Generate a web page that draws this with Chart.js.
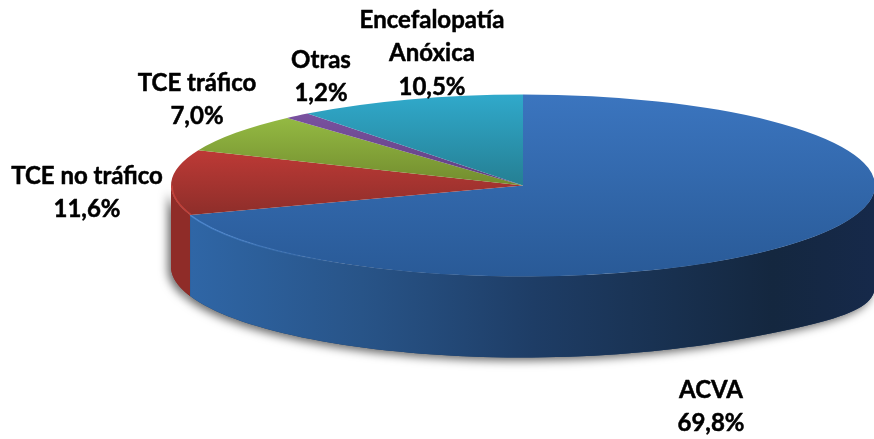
<!DOCTYPE html>
<html>
<head>
<meta charset="utf-8">
<script src="https://cdn.jsdelivr.net/npm/chart.js@4"></script>
<style>
  html, body { margin: 0; padding: 0; background: #fff; }
  canvas { display: block; }
</style>
</head>
<body>
<canvas id="chart" width="874" height="439"></canvas>
<script>
const categories = ['ACVA', 'TCE no tráfico', 'TCE tráfico', 'Otras', 'Encefalopatía Anóxica'];
const values = [69.8, 11.6, 7.0, 1.2, 10.5];
const valueLabels = ['69,8%', '11,6%', '7,0%', '1,2%', '10,5%'];
const labelLines = [['ACVA'], ['TCE no tráfico'], ['TCE tráfico'], ['Otras'], ['Encefalopatía', 'Anóxica']];

// label centres, first line
const labelPos = [[711, 390], [87, 176], [197, 83], [321, 60], [432, 20]];
const lineGap = 33.5;

const pieRadius = 352;
const tilt = 91 / 352;
const depth = 81;
const rightExtra = 19;

// top face colours, [offset over the whole ellipse, colour]
const topStops = [
  [[0, '#3b75bf'], [1, '#295a97']],
  [[0.3, '#be3a36'], [0.66, '#8e2e2a']],
  [[0.125, '#94ba43'], [0.5, '#728c2e']],
  [[0.1, '#7a52a0'], [0.5, '#5f3f80']],
  [[0, '#30a9cb'], [0.5, '#257f93']]
];

const wallStops = [[0, '#2f66a6'], [0.25, '#285488'], [0.5, '#1e3d66'], [0.85, '#14273f'], [1, '#16294a']];
const redWall = '#8f2c28';

const topFill = (c) => {
  const area = c.chart.chartArea;
  const stops = topStops[c.dataIndex];
  if (!area) return stops[0][1];
  const cy = (area.top + area.bottom) / 2;
  const g = c.chart.ctx.createLinearGradient(0, cy - pieRadius, 0, cy + pieRadius);
  stops.forEach(s => g.addColorStop(s[0], s[1]));
  return g;
};

// outline of the side wall between two angles
function wallPath(ctx, arc, from, to) {
  const rx = arc.outerRadius, ry = arc.outerRadius * tilt;
  const steps = 80;
  ctx.beginPath();
  for (let i = 0; i <= steps; i++) {
    const a = from + (to - from) * i / steps;
    ctx.lineTo(arc.x + rx * Math.cos(a), arc.y + ry * Math.sin(a));
  }
  for (let i = steps; i >= 0; i--) {
    const a = from + (to - from) * i / steps;
    const c = Math.max(Math.cos(a), 0);
    ctx.lineTo(arc.x + rx * Math.cos(a), arc.y + ry * Math.sin(a) + depth + rightExtra * Math.pow(c, 6));
  }
  ctx.closePath();
}

const pie3d = {
  id: 'pie3d',
  beforeDatasetsDraw(chart) {
    const ctx = chart.ctx;
    const arcs = chart.getDatasetMeta(0).data;
    const blue = arcs[0], red = arcs[1];

    // soft shadow under the whole wall
    ctx.save();
    ctx.shadowColor = 'rgba(0,0,0,0.6)';
    ctx.shadowBlur = 10;
    ctx.shadowOffsetX = -3;
    ctx.shadowOffsetY = 3;
    ctx.fillStyle = redWall;
    wallPath(ctx, red, blue.endAngle, Math.PI);
    ctx.fill();
    ctx.fillStyle = '#1e3d66';
    wallPath(ctx, blue, 0, blue.endAngle);
    ctx.fill();
    ctx.restore();

    // walls
    ctx.fillStyle = redWall;
    wallPath(ctx, red, blue.endAngle, Math.PI);
    ctx.fill();

    const left = blue.x + blue.outerRadius * Math.cos(blue.endAngle);
    const right = blue.x + blue.outerRadius;
    const g = ctx.createLinearGradient(left, 0, right, 0);
    wallStops.forEach(s => g.addColorStop(s[0], s[1]));
    ctx.fillStyle = g;
    wallPath(ctx, blue, 0, blue.endAngle);
    ctx.fill();

    // flatten the pie into an ellipse
    ctx.save();
    ctx.translate(blue.x, blue.y);
    ctx.scale(1, tilt);
    ctx.translate(-blue.x, -blue.y);
  },
  afterDatasetsDraw(chart) {
    const ctx = chart.ctx;
    ctx.restore();
    const arcs = chart.getDatasetMeta(0).data;
    const blue = arcs[0];
    const rx = blue.outerRadius, ry = rx * tilt;

    // bevel highlight along the front edge
    const left = blue.x + rx * Math.cos(blue.endAngle);
    const g = ctx.createLinearGradient(left, 0, left + rx * 0.45, 0);
    g.addColorStop(0, 'rgba(80,140,215,0.8)');
    g.addColorStop(1, 'rgba(80,140,215,0)');
    ctx.strokeStyle = g;
    ctx.lineWidth = 1.5;
    ctx.beginPath();
    ctx.ellipse(blue.x, blue.y, rx, ry, 0, Math.PI / 2, blue.endAngle);
    ctx.stroke();

    // same on the red slice
    ctx.strokeStyle = 'rgba(205,70,62,0.8)';
    ctx.beginPath();
    ctx.ellipse(blue.x, blue.y, rx - 1, ry - 1, 0, blue.endAngle, Math.PI);
    ctx.stroke();

    // labels
    ctx.fillStyle = '#000';
    ctx.strokeStyle = '#000';
    ctx.lineWidth = 0.5;
    ctx.lineJoin = 'round';
    ctx.font = 'bold 24px Lato, "Open Sans", sans-serif';
    ctx.textAlign = 'center';
    ctx.textBaseline = 'middle';
    labelLines.forEach((lines, i) => {
      const [x, y] = labelPos[i];
      lines.concat(valueLabels[i]).forEach((t, k) => {
        ctx.fillText(t, x, y + k * lineGap);
        ctx.strokeText(t, x, y + k * lineGap);
      });
    });
  }
};

new Chart(document.getElementById('chart'), {
  type: 'pie',
  data: {
    labels: categories,
    datasets: [{
      data: values,
      backgroundColor: topFill,
      borderWidth: 0,
      clip: false
    }]
  },
  options: {
    responsive: false,
    animation: false,
    radius: pieRadius,
    layout: { padding: { left: 172, bottom: 68 } },
    plugins: {
      legend: { display: false },
      tooltip: { enabled: false }
    }
  },
  plugins: [pie3d]
});
</script>
</body>
</html>
